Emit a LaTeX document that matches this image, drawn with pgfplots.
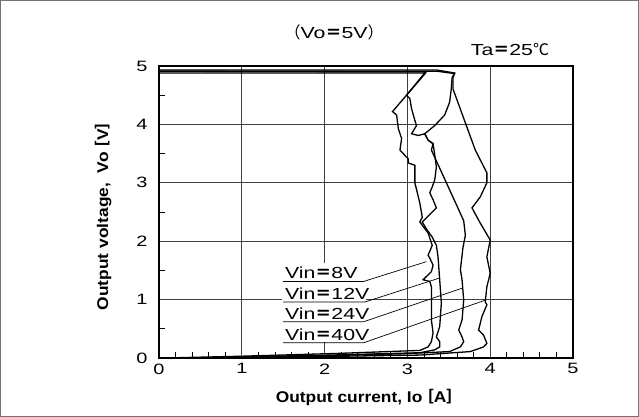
\documentclass[border=0pt]{standalone}
\usepackage{fontspec}
\setmainfont{Liberation Sans}[FakeStretch=1.33]
\newfontfamily\labfont{Liberation Sans}[FakeStretch=1.12]
\newfontfamily\cjk{Noto Sans CJK JP}
\usepackage{pgfplots}
\pgfplotsset{compat=1.18}
\newcommand\zeq{{\cjk\bfseries ＝}}
\newcommand\zlp{{\cjk （}}
\newcommand\zrp{{\cjk ）}}
\newcommand\zlb{\kern-4pt{\cjk ［}}
\newcommand\zrb{{\cjk ］}}
\newcommand\zdeg{{\cjk ℃}}
\newcommand\txt{\fontsize{16}{17}\selectfont}
\newcommand\ticktxt{\fontsize{15}{16}\selectfont}
\begin{document}
\begin{tikzpicture}
  \draw[black!55, line width=0.8pt] (0.4pt,0.4pt) rectangle (638.6pt,416.6pt);
  \begin{axis}[
    at={(159pt,59pt)}, anchor=south west,
    scale only axis, width=414pt, height=292pt,
    xmin=0, xmax=5, ymin=0, ymax=5,
    xtick={0,...,5}, ytick={0,...,5},
    minor x tick num=4, minor y tick num=1,
    tick pos=left, tick align=inside,
    major tick length=0pt, minor tick length=6pt,
    every minor tick/.style={black, line width=0.8pt},
    grid=major,
    major grid style={black!75, line width=0.8pt},
    axis line style={line width=1.2pt},
    /pgf/number format/assume math mode=true,
    tick label style={font=\ticktxt},
    yticklabel style={xshift=-8pt},
    xticklabel style={yshift=-2pt},
    xlabel={\labfont\bfseries Output current, Io\zlb A\zrb},
    ylabel={\labfont\bfseries Output voltage,\ \ Vo\zlb V\zrb},
    xlabel style={at={(axis description cs:0.507,-0.134)}, anchor=center, font=\fontsize{15.5}{16}\selectfont},
    ylabel style={at={(axis description cs:-0.135,0.5)}, anchor=center, font=\fontsize{15.5}{16}\selectfont},
    title={\zlp Vo\zeq 5V\zrp},
    title style={at={(axis description cs:0.423,1.096)}, anchor=center, font=\txt},
  ]
    % label block
    \fill[white] (axis cs:1.49,0.27) rectangle (axis cs:2.50,1.63);
    \draw[black, line width=0.7pt] (axis cs:1.50,1.31) -- (axis cs:2.47,1.31) -- (axis cs:3.23,1.65);
    \draw[black, line width=0.7pt] (axis cs:1.50,0.96) -- (axis cs:2.49,0.96) -- (axis cs:3.39,1.37);
    \draw[black, line width=0.7pt] (axis cs:1.50,0.62) -- (axis cs:2.47,0.62) -- (axis cs:3.67,1.20);
    \draw[black, line width=0.7pt] (axis cs:1.50,0.26) -- (axis cs:2.47,0.26) -- (axis cs:3.94,0.99);
    \node[anchor=base west, inner sep=0pt, yshift=2.7pt, font=\txt] at (axis cs:1.52,1.31) {Vin\zeq 8V};
    \node[anchor=base west, inner sep=0pt, yshift=2.7pt, font=\txt] at (axis cs:1.52,0.96) {Vin\zeq 12V};
    \node[anchor=base west, inner sep=0pt, yshift=2.7pt, font=\txt] at (axis cs:1.52,0.62) {Vin\zeq 24V};
    \node[anchor=base west, inner sep=0pt, yshift=2.7pt, font=\txt] at (axis cs:1.52,0.26) {Vin\zeq 40V};

    % Vin = 8V
    \addplot[black, line width=1.3pt] coordinates {
      (0,4.88) (3.22,4.88) (2.99,4.50) (2.82,4.22) (2.87,4.16) (2.89,3.93)
      (2.93,3.76) (2.91,3.56) (2.95,3.50) (3.01,3.41) (3.01,3.34) (3.09,3.30)
      (3.09,3.00) (3.12,2.83) (3.15,2.65) (3.18,2.41) (3.15,2.33) (3.25,2.14)
      (3.30,1.93) (3.25,1.76) (3.27,1.71) (3.31,1.59) (3.29,1.48) (3.19,1.34)
      (3.27,1.31) (3.29,1.22) (3.29,0.65) (3.31,0.43) (3.29,0.28) (3.25,0.19)
      (3.15,0.13) (2.19,0.08) (0.98,0.03) (0.37,0.01) (0.07,0)
    };
    % Vin = 12V
    \addplot[black, line width=1.3pt] coordinates {
      (0,4.91) (3.22,4.90) (2.99,4.50) (3.03,4.44) (3.05,4.27) (3.09,4.07)
      (3.11,3.98) (3.05,3.84) (3.13,3.81) (3.21,3.84) (3.25,3.73) (3.31,3.67)
      (3.33,3.48) (3.35,3.27) (3.33,3.05) (3.30,2.93) (3.27,2.83) (3.31,2.71)
      (3.35,2.57) (3.18,2.33) (3.22,2.23) (3.30,2.07) (3.35,1.93) (3.37,1.73)
      (3.39,1.34) (3.41,0.94) (3.39,0.54) (3.35,0.36) (3.39,0.28) (3.39,0.19)
      (3.33,0.14) (3.15,0.09) (2.07,0.05) (0.98,0.02) (0.50,0)
    };
    % Vin = 24V
    \addplot[black, line width=1.3pt] coordinates {
      (0,4.93) (3.36,4.93) (3.57,4.88) (3.54,4.80) (3.53,4.61) (3.51,4.38)
      (3.45,4.16) (3.33,3.98) (3.21,3.84) (3.25,3.73) (3.31,3.67) (3.29,3.56)
      (3.60,2.60) (3.68,2.35) (3.70,2.10) (3.67,1.88) (3.64,1.51) (3.66,1.34)
      (3.68,0.99) (3.66,0.65) (3.62,0.48) (3.66,0.36) (3.68,0.28) (3.64,0.19)
      (3.51,0.11) (2.91,0.07) (1.70,0.03) (0.62,0)
    };
    % Vin = 40V
    \addplot[black, line width=1.3pt] coordinates {
      (0,4.91) (3.36,4.91) (3.57,4.87) (3.55,4.80) (3.55,4.61) (3.82,3.56)
      (3.96,3.17) (3.96,3.00) (3.88,2.76) (3.78,2.57) (3.88,2.31) (4.00,2.02)
      (3.96,1.73) (4.00,1.45) (3.96,1.22) (3.94,0.96) (3.96,0.91) (3.90,0.71)
      (3.86,0.48) (3.92,0.39) (3.96,0.25) (3.92,0.19) (3.76,0.11) (3.15,0.05)
      (1.70,0.02) (0.74,0)
    };
  \end{axis}
  \node[font=\txt] at (510pt,367pt) {Ta\zeq 25\zdeg};
\end{tikzpicture}
\end{document}
